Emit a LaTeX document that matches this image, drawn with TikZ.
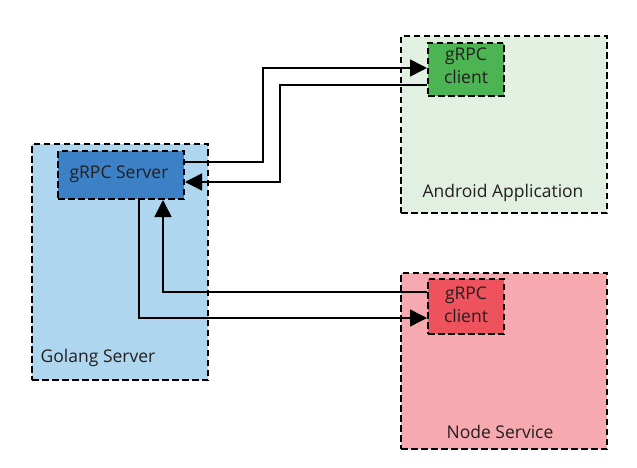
\documentclass[tikz,border=0pt]{standalone}
\usepackage{fontspec}
\setmainfont{Open Sans}
\usetikzlibrary{arrows.meta}
\definecolor{goouter}{HTML}{AED6EE}
\definecolor{goinner}{HTML}{3C80C6}
\definecolor{anouter}{HTML}{E1F0E1}
\definecolor{aninner}{HTML}{4CB452}
\definecolor{ndouter}{HTML}{F6AAB0}
\definecolor{ndinner}{HTML}{EE525C}
\definecolor{txt}{HTML}{231F20}
\tikzset{
  box/.style={draw=black, line width=2pt, dash pattern=on 6.5pt off 3.5pt, inner sep=0pt, anchor=north west},
  lbl/.style={font=\fontsize{17.5}{23}\selectfont, text=txt, align=center},
  conn/.style={line width=1.5pt, -{Triangle[length=17pt,width=17pt]}},
}
\begin{document}
\begin{tikzpicture}[x=1pt,y=-1pt]
\useasboundingbox (0,0) rectangle (637,468);
% outer boxes
\node[box, fill=goouter, minimum width=176pt, minimum height=236pt] (go) at (31,143) {};
\node[box, fill=anouter, minimum width=206pt, minimum height=177pt] (an) at (400,35) {};
\node[box, fill=ndouter, minimum width=206pt, minimum height=176pt] (nd) at (400,272) {};
% inner boxes
\node[box, fill=goinner, minimum width=126pt, minimum height=48pt] (srv) at (57,150) {};
\node[box, fill=aninner, minimum width=76pt, minimum height=53pt] (acl) at (427,42) {};
\node[box, fill=ndinner, minimum width=76pt, minimum height=55pt] (ncl) at (427,278) {};
% labels
\node[lbl] (srvt) at (119,174) {gRPC Server};
\node[lbl] (aclt) at (466,66) {gRPC\\client};
\node[lbl] (nclt) at (466,305) {gRPC\\client};
\node[lbl] (got) at (98,358) {Golang Server};
\node[lbl] (ant) at (503,193) {Android Application};
\node[lbl] (ndt) at (500,432) {Node Service};
% connectors
\coordinate (a1) at (263,162);
\coordinate (a2) at (263,68);
\draw[conn] (srv.east |- a1) -- (a1) -- (a2) -- (acl.west |- a2);
\coordinate (b1) at (280,85);
\coordinate (b2) at (280,182);
\draw[conn] (acl.west |- b1) -- (b1) -- (b2) -- (srv.east |- b2);
\coordinate (c1) at (163,292);
\draw[conn] (ncl.west |- c1) -- (c1) -- (c1 |- srv.south);
\coordinate (d1) at (139,318);
\draw[conn] (d1 |- srv.south) -- (d1) -- (ncl.west |- d1);
\end{tikzpicture}
\end{document}
